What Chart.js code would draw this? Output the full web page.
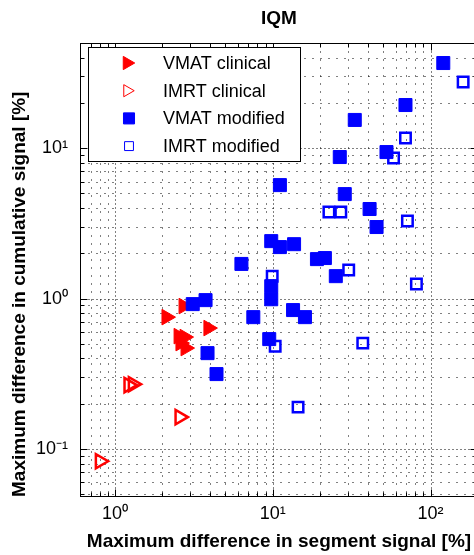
<!DOCTYPE html>
<html>
<head>
<meta charset="utf-8">
<title>IQM</title>
<script src="https://cdn.jsdelivr.net/npm/chart.js@4.4.1/dist/chart.umd.min.js"></script>
<style>
  html, body { margin: 0; padding: 0; background: #fff; overflow: hidden; }
  #wrap { width: 474px; height: 555px; overflow: hidden; }
  canvas { display: block; }
</style>
</head>
<body>
<div id="wrap"><canvas id="chart" width="490" height="555"></canvas></div>
<script>
/* ---------- Data (log-log axes) ---------- */
const vmatClinicalX = [2.12, 2.72, 2.53, 2.76, 2.80, 3.91, 2.60];
const vmatClinicalY = [0.753, 0.892, 0.563, 0.555, 0.469, 0.637, 0.506];

const imrtClinicalX = [1.22, 1.30, 2.57, 0.803];
const imrtClinicalY = [0.266, 0.270, 0.163, 0.083];

const vmatModifiedX = [120.5, 69.4, 33.1, 52.6, 26.6, 11.1, 28.6, 41.1, 45.5, 9.78, 11.1, 13.65, 6.33,
                       19.06, 21.4, 25.1, 9.78, 9.78, 13.45, 16.0, 7.53, 9.50, 3.86, 4.40, 3.11, 3.75];
const vmatModifiedY = [36.8, 19.35, 15.4, 9.42, 8.73, 5.68, 4.95, 3.94, 2.99, 2.41, 2.20, 2.30, 1.70,
                       1.83, 1.86, 1.41, 1.21, 0.99, 0.839, 0.753, 0.753, 0.538, 0.434, 0.315, 0.919, 0.977];

const imrtModifiedX = [161, 69.4, 58.3, 22.7, 27.0, 71.4, 30.3, 81.4, 9.92, 10.36, 37.2, 14.47];
const imrtModifiedY = [27.5, 11.67, 8.60, 3.76, 3.76, 3.28, 1.55, 1.25, 1.41, 0.483, 0.506, 0.190];

const xTickValues = [1, 10, 100];
const xTickLabels = ["10\u2070", "10\u00B9", "10\u00B2"];
const yTickValues = [0.1, 1, 10];
const yTickLabels = ["10\u207B\u00B9", "10\u2070", "10\u00B9"];

const X_RANGE = [0.62, 200];
const Y_RANGE = [0.048, 50];

/* ---------- Helpers ---------- */
const FONT = "'Liberation Sans', Arial, Helvetica, sans-serif";
const RED = "#ff0000", BLUE = "#0000ff";
const pts = (xs, ys) => xs.map((x, i) => ({ x, y: ys[i] }));

// every 1..9 × 10^e inside [min, max], flag decades
function logSteps(min, max) {
  const out = [];
  for (let e = Math.floor(Math.log10(min)); e <= Math.ceil(Math.log10(max)); e++) {
    for (let m = 1; m <= 9; m++) {
      const v = m * Math.pow(10, e);
      if (v > min * 1.0001 && v < max * 0.9999) out.push([v, m === 1]);
    }
  }
  return out;
}

/* ---------- MATLAB-ish axes: dotted grid, inward ticks, box ---------- */
const matlabAxes = {
  id: "matlabAxes",
  beforeDatasetsDraw(chart) {
    const { ctx, chartArea: a, scales: { x, y } } = chart;
    const L = a.left + 0.5, R = a.right - 0.5, T = a.top + 0.5, B = a.bottom - 0.5;
    const xs = logSteps(x.min, x.max), ys = logSteps(y.min, y.max);
    ctx.save();
    ctx.lineWidth = 1;
    ctx.strokeStyle = "#000";

    // grid
    xs.forEach(([v, major]) => {
      const p = Math.round(x.getPixelForValue(v)) + 0.5;
      ctx.setLineDash(major ? [1, 3] : [1, 7]);
      ctx.beginPath(); ctx.moveTo(p, T); ctx.lineTo(p, B); ctx.stroke();
    });
    ys.forEach(([v, major]) => {
      const p = Math.round(y.getPixelForValue(v)) + 0.5;
      ctx.setLineDash(major ? [1, 3] : [1, 7]);
      ctx.beginPath(); ctx.moveTo(L, p); ctx.lineTo(R, p); ctx.stroke();
    });

    // ticks
    ctx.setLineDash([]);
    ctx.beginPath();
    xs.forEach(([v, major]) => {
      const p = Math.round(x.getPixelForValue(v)) + 0.5, len = major ? 7 : 4;
      ctx.moveTo(p, B); ctx.lineTo(p, B - len);
      ctx.moveTo(p, T); ctx.lineTo(p, T + len);
    });
    ys.forEach(([v, major]) => {
      const p = Math.round(y.getPixelForValue(v)) + 0.5, len = major ? 7 : 4;
      ctx.moveTo(L, p); ctx.lineTo(L + len, p);
      ctx.moveTo(R, p); ctx.lineTo(R - len, p);
    });
    ctx.stroke();

    // box
    ctx.strokeRect(L, T, R - L, B - T);
    ctx.restore();
  },

  afterDatasetsDraw(chart) {
    // legend box, top-left inside the axes
    const { ctx, chartArea: a } = chart;
    const bx = a.left + 8.5, by = a.top + 4.5, bw = 212, bh = 114;
    ctx.save();
    ctx.fillStyle = "#fff";
    ctx.fillRect(bx, by, bw, bh);
    ctx.strokeStyle = "#000";
    ctx.lineWidth = 1;
    ctx.strokeRect(bx, by, bw, bh);

    const drawPoint = Chart.helpers && Chart.helpers.drawPoint;
    chart.data.datasets.forEach((ds, i) => {
      const cy = a.top + 20 + i * 27.7;
      const r = ds.pointRadius * 0.85;
      const mx = a.left + 49 - (ds.pointStyle === "triangle" ? r * 0.25 : 0);
      ctx.fillStyle = ds.pointBackgroundColor;
      ctx.strokeStyle = ds.pointBorderColor;
      if (drawPoint) {
        drawPoint(ctx, { pointStyle: ds.pointStyle, rotation: ds.pointRotation || 0,
                         radius: r, borderWidth: ds.pointBorderWidth }, mx, cy);
      }
      ctx.fillStyle = "#000";
      ctx.font = `18px ${FONT}`;
      ctx.textBaseline = "middle";
      ctx.textAlign = "left";
      ctx.fillText(ds.label, a.left + 83, cy + 1);
    });
    ctx.restore();
  }
};

/* ---------- Chart ---------- */
const ctx = document.getElementById("chart").getContext("2d");
new Chart(ctx, {
  type: "scatter",
  data: {
    datasets: [
      { label: "VMAT clinical", data: pts(vmatClinicalX, vmatClinicalY), order: 3,
        pointStyle: "triangle", pointRotation: 90, pointRadius: 9,
        pointBackgroundColor: RED, pointBorderColor: RED, pointBorderWidth: 1 },
      { label: "IMRT clinical", data: pts(imrtClinicalX, imrtClinicalY), order: 2,
        pointStyle: "triangle", pointRotation: 90, pointRadius: 8.2,
        pointBackgroundColor: "rgba(0,0,0,0)", pointBorderColor: RED, pointBorderWidth: 2.5 },
      { label: "VMAT modified", data: pts(vmatModifiedX, vmatModifiedY), order: 1,
        pointStyle: "rect", pointRadius: 9.2,
        pointBackgroundColor: BLUE, pointBorderColor: BLUE, pointBorderWidth: 1 },
      { label: "IMRT modified", data: pts(imrtModifiedX, imrtModifiedY), order: 0,
        pointStyle: "rect", pointRadius: 7.4,
        pointBackgroundColor: "rgba(0,0,0,0)", pointBorderColor: BLUE, pointBorderWidth: 2.5 }
    ]
  },
  options: {
    responsive: false,
    animation: false,
    events: [],
    layout: { padding: { left: 0, right: 12, top: 0, bottom: 0 } },
    plugins: {
      legend: { display: false },
      tooltip: { enabled: false },
      title: {
        display: true, text: "IQM", fullSize: false, color: "#000",
        font: { family: FONT, size: 19, weight: "bold", lineHeight: 1 },
        padding: { top: 9, bottom: 15 }
      }
    },
    scales: {
      x: {
        type: "logarithmic", min: X_RANGE[0], max: X_RANGE[1],
        grid: { display: false, drawTicks: false },
        border: { display: false },
        afterBuildTicks: (s) => { s.ticks = xTickValues.map(v => ({ value: v })); },
        afterFit: (s) => { s.height = 58; },
        ticks: {
          autoSkip: false, maxRotation: 0, padding: 6, color: "#000",
          font: { family: FONT, size: 18 },
          callback: (v) => xTickLabels[xTickValues.indexOf(v)] ?? ""
        },
        title: {
          display: true, text: "Maximum difference in segment signal [%]", color: "#000",
          font: { family: FONT, size: 19, weight: "bold" },
          padding: { top: 0, bottom: 2 }
        }
      },
      y: {
        type: "logarithmic", min: Y_RANGE[0], max: Y_RANGE[1],
        grid: { display: false, drawTicks: false },
        border: { display: false },
        afterBuildTicks: (s) => { s.ticks = yTickValues.map(v => ({ value: v })); },
        afterFit: (s) => { s.width = 80; },
        ticks: {
          autoSkip: false, padding: 12, color: "#000",
          font: { family: FONT, size: 18 },
          callback: (v) => yTickLabels[yTickValues.indexOf(v)] ?? ""
        },
        title: {
          display: true, text: "Maximum difference in cumulative signal [%]", color: "#000",
          align: "start",
          font: { family: FONT, size: 19, weight: "bold" },
          padding: { top: 8.6, bottom: 0 }
        }
      }
    }
  },
  plugins: [matlabAxes]
});
</script>
</body>
</html>
